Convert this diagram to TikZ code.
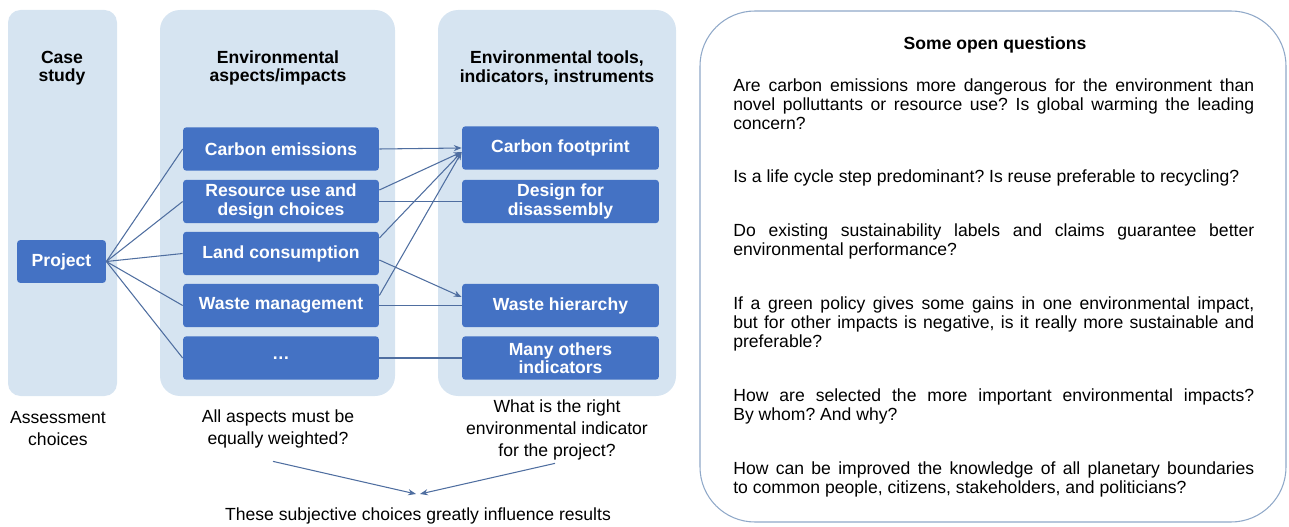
\documentclass[tikz,border=0pt]{standalone}
\usepackage{fontspec}
\setmainfont{Liberation Sans}
\usetikzlibrary{arrows.meta}
\definecolor{panelBlue}{RGB}{214,228,241}
\definecolor{boxBlue}{RGB}{68,114,196}
\definecolor{linkBlue}{RGB}{79,110,160}
\definecolor{frameBlue}{RGB}{143,168,200}
\newcommand{\qgap}{\par\vspace{0.7cm}}
\frenchspacing

\begin{document}
\begin{tikzpicture}[x=0.02cm,y=-0.02cm,
    panel/.style={fill=panelBlue, rounded corners=0.4cm},
    item/.style={fill=boxBlue, rounded corners=2pt, text=white,
        font=\bfseries\fontsize{10}{10.5}\selectfont, align=center,
        minimum width=3.92cm, minimum height=0.87cm, inner sep=0pt},
    heading/.style={font=\bfseries\fontsize{10}{10.5}\selectfont, align=center},
    remark/.style={font=\fontsize{10}{12.5}\selectfont, align=center},
    link/.style={draw=linkBlue, line width=0.6pt},
    linkArrow/.style={link, -{Stealth[length=4.5pt,width=3.5pt]}}]

\useasboundingbox (0,0) rectangle (1289,527);

% panels
\fill[panel, rounded corners=0.25cm] (8,10) rectangle (117,396);
\fill[panel] (160,10) rectangle (395,396);
\fill[panel] (438,10) rectangle (676,396);
\draw[draw=frameBlue, line width=0.6pt, rounded corners=1.1cm]
    (700,11) rectangle (1286,522);

% headings
\node[heading](caseHead) at (62,68){Case\\study};
\node[heading](aspectHead) at (278,68){Environmental\\aspects/impacts};
\node[heading](toolHead) at (557,68){Environmental tools,\\indicators, instruments};

% case study
\node[item, minimum width=1.78cm, minimum height=0.86cm](project) at (61.5,261.5){Project};

% aspects
\node[item](carbonEm) at (281,149){Carbon emissions};
\node[item](resource) at (281,201.5){Resource use and\\design choices};
\node[item](land) at (281,253.5){Land consumption};
\node[item](waste) at (281,305.5){Waste management};
\node[item](moreAspects) at (281,358){\dots};

% tools
\node[item, minimum width=3.94cm](carbonFoot) at (560.5,148){Carbon footprint};
\node[item, minimum width=3.94cm](disassembly) at (560.5,201.5){Design for\\disassembly};
\node[item, minimum width=3.94cm](hierarchy) at (560.5,305.5){Waste hierarchy};
\node[item, minimum width=3.94cm](manyOthers) at (560.5,358){Many others\\indicators};

% project to aspects
\foreach \aspect in {carbonEm,resource,land,waste,moreAspects}
{
    \draw[link](project.east) -- (\aspect.west);
}

% aspects to tools
\draw[linkArrow](carbonEm.east) -- (carbonFoot.west);
\draw[linkArrow]([yshift=0.23cm]resource.east) -- ([yshift=-0.08cm]carbonFoot.west);
\draw[linkArrow]([yshift=0.31cm]land.east) -- ([yshift=-0.08cm]carbonFoot.west);
\draw[linkArrow]([yshift=0.2cm]waste.east) -- ([yshift=-0.08cm]carbonFoot.west);
\draw[linkArrow]([yshift=-0.13cm]land.east) -- ([yshift=0.17cm]hierarchy.west);
\draw[link](resource.east) -- (disassembly.west);
\draw[link](waste.east) -- (hierarchy.west);
\draw[link](moreAspects.east) -- (manyOthers.west);

% notes under the panels
\node[remark](assessNote) at (58,429){Assessment\\choices};
\node[remark](weightNote) at (278,429){All aspects must be\\equally weighted?};
\node[remark](indicatorNote) at (557,430){What is the right\\environmental indicator\\for the project?};
\node[remark](influenceNote) at (418,516){These subjective choices greatly influence results};
\coordinate(meetLeft) at (416,494);
\coordinate(meetRight) at (420,494);
\draw[linkArrow]([shift={(-5,7)}]weightNote.south) -- (meetLeft);
\draw[linkArrow]([shift={(-2,-3)}]indicatorNote.south) -- (meetRight);

% open questions
\node[font=\bfseries\fontsize{10}{12}\selectfont, anchor=base](openHead) at (995,50)
    {Some open questions};
\node[anchor=north west, text width=10.42cm, inner sep=0pt, align=justify,
    font=\fontsize{10}{10.8}\selectfont](questions) at (733,78)
    {\hyphenpenalty=10000
    Are carbon emissions more dangerous for the environment than novel
    polluttants or resource use? Is global warming the leading concern?\qgap
    Is a life cycle step predominant? Is reuse preferable to recycling?\qgap
    Do existing sustainability labels and claims guarantee better
    environmental performance?\qgap
    If a green policy gives some gains in one environmental impact, but for
    other impacts is negative, is it really more sustainable and preferable?\qgap
    How are selected the more important environmental impacts?\linebreak
    By whom? And why?\qgap
    How can be improved the knowledge of all planetary boundaries\linebreak
    to common people, citizens, stakeholders, and politicians?};

\end{tikzpicture}
\end{document}
